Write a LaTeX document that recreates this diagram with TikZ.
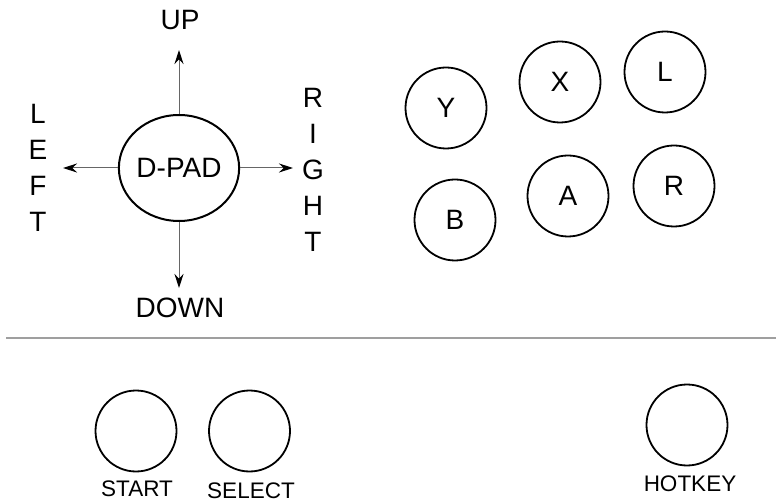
\documentclass[tikz,border=0pt]{standalone}
\usepackage{fontspec}
\setmainfont{Liberation Sans}
\usetikzlibrary{arrows.meta,shapes.geometric}
\tikzset{
    btn/.style={draw,circle,line width=1.8pt,minimum size=81pt,inner sep=0pt,font=\fontsize{28}{34}\selectfont},
    smallbtn/.style={draw,circle,line width=1.8pt,minimum size=81pt,inner sep=0pt},
    dirarrow/.style={draw=black!60,line width=1pt,-{Stealth[black,length=14pt,width=9pt]}},
    toplabel/.style={inner sep=0pt,font=\fontsize{28}{36}\selectfont,align=center},
    botlabel/.style={inner sep=0pt,font=\fontsize{22.5}{26}\selectfont}
}
\begin{document}
\begin{tikzpicture}[x=1pt,y=-1pt]
        \useasboundingbox (0,0) rectangle (776,502);
        % D-pad
        \node[draw,ellipse,line width=2pt,minimum width=114pt,minimum height=106pt,inner sep=0pt,font=\fontsize{28}{34}\selectfont](dpad) at (179,168){D-PAD};
        \coordinate (uptip) at (179,50);
        \coordinate (downtip) at (179,288);
        \coordinate (lefttip) at (63,168);
        \coordinate (righttip) at (293,168);
        \draw[dirarrow](dpad.north)--(uptip);
        \draw[dirarrow](dpad.south)--(downtip);
        \draw[dirarrow](dpad.west)--(lefttip);
        \draw[dirarrow](dpad.east)--(righttip);
        % Direction labels
        \node[toplabel](uplabel) at (180,20){UP};
        \node[toplabel](downlabel) at (180,308){DOWN};
        \node[toplabel](leftlabel) at (38,168){L\\E\\F\\T};
        \node[toplabel](rightlabel) at (313,170){R\\I\\G\\H\\T};
        % Face buttons
        \node[btn](btnY) at (446,108){Y};
        \node[btn](btnX) at (560,82){X};
        \node[btn](btnL) at (665,72){L};
        \node[btn](btnB) at (455,220){B};
        \node[btn](btnA) at (568,196){A};
        \node[btn](btnR) at (674,186){R};
        % Divider
        \draw[gray!75,line width=2pt](6,338)--(776,338);
        % System buttons
        \node[smallbtn](start) at (136,431){};
        \node[smallbtn](select) at (249.5,431){};
        \node[smallbtn](hotkey) at (687,425){};
        \node[botlabel](startlabel) at (137,488.5){START};
        \node[botlabel](selectlabel) at (251,491){SELECT};
        \node[botlabel](hotkeylabel) at (690,483.5){HOTKEY};
    \end{tikzpicture}
\end{document}
